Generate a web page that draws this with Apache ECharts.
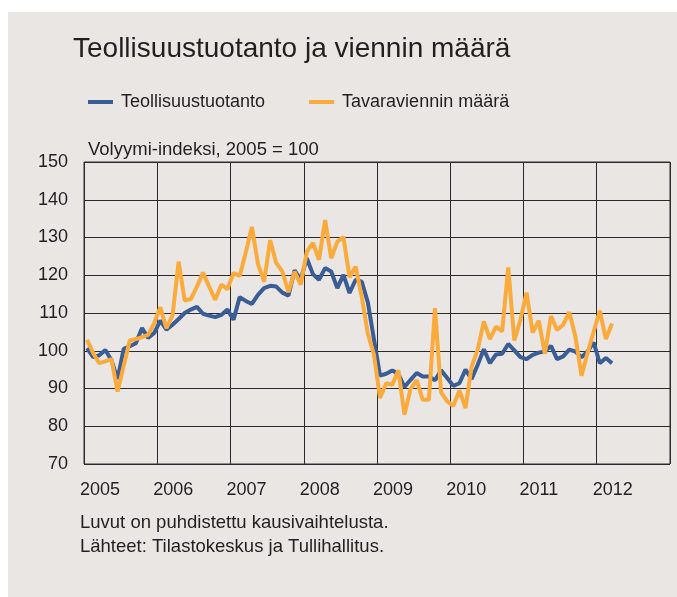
<!DOCTYPE html>
<html>
<head>
<meta charset="utf-8">
<script src="https://cdn.jsdelivr.net/npm/echarts/dist/echarts.min.js"></script>
<style>
html, body { margin: 0; padding: 0; background: #fff; }
#chart { width: 677px; height: 597px; }
</style>
</head>
<body>
<div id="chart"></div>
<script>
// vuodet x-akselille, kuukausittaiset kategoriat rakennetaan niistä
var years = ['2005', '2006', '2007', '2008', '2009', '2010', '2011', '2012'];
var months = [];
years.forEach(function(y) {
	for (var m = 1; m <= 12; m++) {
		months.push(y + '-' + (m < 10 ? '0' + m : m));
	}
});

var yTicks = [70, 80, 90, 100, 110, 120, 130, 140, 150];

// Teollisuustuotanto, 2005/01 - 2012/03
var teollisuus = [
	100.7, 98.3, 98.8, 100.2, 97.5, 92.5, 100.5, 101.2, 102, 106, 103.4, 104.7,
	108, 105.6, 106.9, 108.4, 110, 110.9, 111.6, 109.8, 109.3, 108.9, 109.5, 110.9,
	108.2, 114.2, 113.2, 112.4, 114.8, 116.6, 117.2, 117, 115.4, 114.6, 121.3, 118.8,
	124.5, 120.3, 118.8, 121.9, 121, 116.6, 120.1, 115.3, 118.8, 118.3, 112.8, 103,
	93.4, 93.9, 94.8, 93.9, 90.4, 92.3, 94.1, 93.2, 93.2, 92.2, 94.8, 92.8,
	90.7, 91.4, 95, 92.5, 96.3, 100.4, 96.7, 99, 99.2, 101.8, 100.1, 98.3,
	97.8, 98.9, 99.5, 99.8, 101.3, 97.8, 98.5, 100.3, 99.8, 98.3, 99.8, 102.2,
	96.7, 98.1, 96.7
];

// Tavaraviennin määrä
var vienti = [
	102.9, 99.4, 96.7, 97.2, 97.8, 89.2, 96, 102.7, 103.1, 103.6, 104.2, 107.3,
	111.5, 106, 109.3, 123.6, 113.3, 113.7, 117, 120.7, 117, 113.5, 117.5, 116.3,
	120.6, 119.8, 126, 132.8, 123, 118.3, 129.3, 123.2, 121, 115.5, 121, 117.5,
	126.2, 128.6, 124.1, 134.6, 124.5, 128.9, 130.1, 119.5, 122.3, 114.3, 104.5, 99,
	87.5, 91.4, 91, 94.8, 83.1, 89.9, 92.2, 87, 87, 111.3, 89, 86.6,
	85.4, 89.5, 84.8, 95.8, 100.3, 107.8, 103.1, 106.4, 105.1, 122.1, 102.7, 108.2,
	115.4, 104.8, 108, 99.2, 109.2, 105.5, 106.9, 110.2, 103.8, 93.4, 99.4, 105.1,
	110.6, 103.1, 107.2
];

var font = "'Liberation Sans', Arial, sans-serif";
var txt = '#231f20';

var chart = echarts.init(document.getElementById('chart'));
var option = {
	animation: false,
	backgroundColor: '#e9e6e3',
	textStyle: {
		fontFamily: font
	},
	graphic: [{
		type: 'rect',
		left: 0,
		top: 0,
		shape: { width: 677, height: 12 },
		style: { fill: '#fff' }
	}, {
		type: 'rect',
		left: 0,
		top: 0,
		shape: { width: 8, height: 597 },
		style: { fill: '#fff' }
	}, {
		type: 'text',
		left: 88,
		top: 140,
		style: {
			text: 'Volyymi-indeksi, 2005 = 100',
			font: '18.5px ' + font,
			fill: txt
		}
	}, {
		type: 'text',
		left: 80,
		top: 511,
		style: {
			text: 'Luvut on puhdistettu kausivaihtelusta.\nLähteet: Tilastokeskus ja Tullihallitus.',
			font: '18.5px ' + font,
			lineHeight: 24,
			fill: txt
		}
	}],
	title: {
		text: 'Teollisuustuotanto ja viennin määrä',
		left: 73,
		top: 35,
		padding: 0,
		textStyle: {
			fontSize: 28,
			fontWeight: 'normal',
			color: txt
		}
	},
	legend: {
		left: 88,
		top: 93,
		padding: 0,
		icon: 'rect',
		itemWidth: 25,
		itemHeight: 4,
		itemGap: 44,
		textStyle: {
			fontSize: 18,
			color: txt,
			padding: [0, 0, 0, 3]
		},
		data: ['Teollisuustuotanto', 'Tavaraviennin määrä']
	},
	grid: {
		left: 84,
		top: 162,
		right: 7,
		bottom: 133,
		show: true,
		borderColor: '#333',
		borderWidth: 1
	},
	xAxis: {
		type: 'category',
		data: months,
		boundaryGap: true,
		axisLine: { show: false },
		axisTick: { show: false },
		splitLine: {
			show: true,
			interval: function(i) { return i % 12 === 0; },
			lineStyle: { color: '#2a2a2a', width: 1 }
		},
		axisLabel: {
			interval: function(i) { return i % 12 === 0; },
			formatter: function(v) { return v.slice(0, 4); },
			align: 'left',
			padding: [0, 0, 0, -7],
			margin: 17,
			fontSize: 18,
			color: txt
		}
	},
	yAxis: {
		type: 'value',
		min: yTicks[0],
		max: yTicks[yTicks.length - 1],
		interval: 10,
		axisLine: { show: false },
		axisTick: { show: false },
		splitLine: {
			lineStyle: { color: '#2a2a2a', width: 1 }
		},
		axisLabel: {
			margin: 16,
			fontSize: 18,
			color: txt
		}
	},
	series: [{
		name: 'Teollisuustuotanto',
		type: 'line',
		data: teollisuus,
		showSymbol: false,
		color: '#3a5d96',
		lineStyle: { width: 4, color: '#3a5d96' }
	}, {
		name: 'Tavaraviennin määrä',
		type: 'line',
		data: vienti,
		showSymbol: false,
		color: '#fbaa3c',
		lineStyle: { width: 4, color: '#fbaa3c' }
	}]
};
chart.setOption(option);
</script>
</body>
</html>
